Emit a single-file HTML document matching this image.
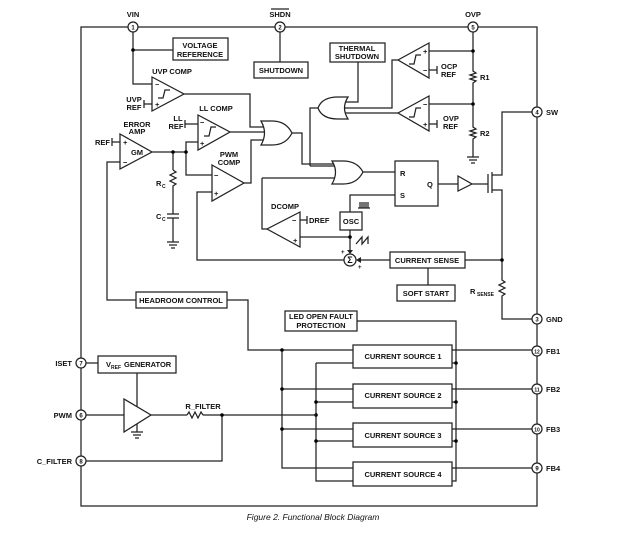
<!DOCTYPE html>
<html><head><meta charset="utf-8"><style>
html,body{margin:0;padding:0;background:#fff}
svg{display:block}
text{font-family:"Liberation Sans",sans-serif;font-weight:bold;font-size:7.5px;fill:#111}
.l{stroke:#222;stroke-width:1.25;fill:none}
.b{stroke:#222;stroke-width:1.25;fill:#fff}
</style></head><body>
<svg width="626" height="533" viewBox="0 0 626 533">
<rect x="81" y="27" width="456" height="479" class="l" stroke-width="1.5"/>
<g class="b">
<circle cx="133" cy="27" r="5"/><circle cx="280" cy="27" r="5"/><circle cx="473" cy="27" r="5"/>
<circle cx="537" cy="112" r="5"/><circle cx="537" cy="319" r="5"/><circle cx="537" cy="351" r="5"/>
<circle cx="537" cy="389" r="5"/><circle cx="537" cy="429" r="5"/><circle cx="537" cy="468" r="5"/>
<circle cx="81" cy="363" r="5"/><circle cx="81" cy="415" r="5"/><circle cx="81" cy="461" r="5"/>
</g>
<g text-anchor="middle">
<text x="133" y="29.5" style="font-size:6px">1</text><text x="280" y="29.5" style="font-size:6px">2</text><text x="473" y="29.5" style="font-size:6px">5</text>
<text x="537" y="114.5" style="font-size:6px">4</text><text x="537" y="321.5" style="font-size:6px">3</text><text x="537" y="353.5" style="font-size:5px">12</text>
<text x="537" y="391.5" style="font-size:5px">11</text><text x="537" y="431.5" style="font-size:5px">10</text><text x="537" y="470.5" style="font-size:6px">9</text>
<text x="81" y="365.5" style="font-size:6px">7</text><text x="81" y="417.5" style="font-size:6px">6</text><text x="81" y="463.5" style="font-size:6px">8</text>
</g>
<text x="133" y="17" text-anchor="middle">VIN</text>
<text x="280" y="17" text-anchor="middle">SHDN</text><line x1="271" y1="9" x2="289" y2="9" class="l" stroke-width="0.8"/>
<text x="473" y="17" text-anchor="middle">OVP</text>
<text x="546" y="115">SW</text><text x="546" y="322">GND</text><text x="546" y="354">FB1</text>
<text x="546" y="392">FB2</text><text x="546" y="432">FB3</text><text x="546" y="471">FB4</text>
<text x="72" y="366" text-anchor="end">ISET</text><text x="72" y="418" text-anchor="end">PWM</text><text x="72" y="464" text-anchor="end">C_FILTER</text>

<path class="l" d="M133 32V84H152M133 50H173M280 32V62"/>
<circle cx="133" cy="50" r="1.8"/>
<rect x="173" y="38" width="55" height="22" class="l"/>
<text x="200" y="48" text-anchor="middle">VOLTAGE</text><text x="200" y="57" text-anchor="middle">REFERENCE</text>
<rect x="254" y="62" width="54" height="16" class="l"/><text x="281" y="73" text-anchor="middle">SHUTDOWN</text>

<path class="b" d="M152 77L184 94L152 111Z"/>
<text x="172" y="74" text-anchor="middle">UVP COMP</text>
<text x="155" y="87" style="font-size:7px">−</text><text x="155" y="107">+</text>
<path class="l" d="M158 98H163L165 90H170M144 100V108M144 104H152" stroke-width="0.9"/>
<text x="134" y="102" text-anchor="middle">UVP</text><text x="134" y="110" text-anchor="middle">REF</text>
<path class="l" d="M184 94H250V127H266"/>

<path class="b" d="M198 115L230 132L198 150Z"/>
<text x="216" y="111" text-anchor="middle">LL COMP</text>
<text x="200" y="125">−</text><text x="200" y="146">+</text>
<path class="l" d="M204 136H209L211 127H216M185 120V128M185 124H198" stroke-width="0.9"/>
<text x="178" y="121" text-anchor="middle">LL</text><text x="176" y="129" text-anchor="middle">REF</text>
<path class="l" d="M230 132H266"/>

<path class="b" d="M120 134L152 152L120 169Z"/>
<text x="137" y="127" text-anchor="middle">ERROR</text><text x="137" y="134" text-anchor="middle">AMP</text>
<text x="137" y="155" text-anchor="middle">GM</text>
<text x="123" y="145">+</text><text x="123" y="165">−</text>
<path class="l" d="M112 138V146M112 142H120"/>
<text x="95" y="145">REF</text>
<path class="l" d="M152 152H186V142H198M186 152V175H212M173 152V170M120 162H107V300H136"/>
<circle cx="173" cy="152" r="1.8"/><circle cx="186" cy="152" r="1.8"/>
<path class="l" d="M173 170L176 172L170 175L176 178L170 181L176 184L173 186V214M167 214H179M167 218H179M173 218V242M167 242H179M169 245H177M171 248H175" stroke-width="0.9"/>
<text x="156" y="186">R</text><text x="162" y="188" style="font-size:5px">C</text>
<text x="156" y="219">C</text><text x="162" y="221" style="font-size:5px">C</text>

<path class="b" d="M212 165L244 183L212 201Z"/>
<text x="229" y="157" text-anchor="middle">PWM</text><text x="229" y="165" text-anchor="middle">COMP</text>
<text x="214" y="178">−</text><text x="214" y="196">+</text>
<path class="l" d="M212 192H197V260H344M244 183H251V140H266"/>

<path class="b" d="M261 121Q268 133 261 145H272Q286 145 292 133Q286 121 272 121Z"/>
<path class="l" d="M292 133H302V164H334M310 166H334"/>
<path class="b" d="M348 97Q341 108 348 119H338Q322 119 318 108Q322 97 338 97Z"/>
<path class="l" d="M318 108H310V166M358 62V102H345M398 60H392V108H345M398 113H345"/>
<rect x="330" y="43" width="55" height="19" class="l"/>
<text x="357" y="51" text-anchor="middle">THERMAL</text><text x="357" y="59" text-anchor="middle">SHUTDOWN</text>
<path class="b" d="M429 43L398 60L429 78Z"/>
<text x="423" y="54">+</text><text x="423" y="73">−</text>
<path class="l" d="M409 64H414L416 55H421M429 70H437M437 66V74M429 51H473" stroke-width="0.9"/>
<text x="441" y="69">OCP</text><text x="441" y="77">REF</text>
<path class="b" d="M429 96L398 113L429 131Z"/>
<text x="423" y="107">−</text><text x="423" y="127">+</text>
<path class="l" d="M409 117H414L416 108H421M429 124H437M437 120V128M429 104H473" stroke-width="0.9"/>
<text x="443" y="121">OVP</text><text x="443" y="129">REF</text>
<path class="l" d="M473 32V71L476 73L470 75L476 77L470 79L476 81L473 83V127L476 129L470 131L476 133L470 135L476 137L473 139V157M467 157H479M469 160H477M471 163H475" stroke-width="1"/>
<circle cx="473" cy="51" r="1.8"/><circle cx="473" cy="104" r="1.8"/>
<text x="480" y="80">R1</text><text x="480" y="136">R2</text>

<path class="b" d="M332 161Q339 172 332 184H343Q357 184 363 172Q357 161 343 161Z"/>
<path class="l" d="M363 172H395M262 178H334M262 178V229H267"/>
<rect x="395" y="161" width="43" height="45" class="l"/>
<text x="400" y="176">R</text><text x="400" y="198">S</text><text x="427" y="187">Q</text>
<path class="l" d="M395 195H350V212M438 184H458"/>
<path class="l" d="M360 208V202M362 208V202M364 208V202M366 208V202M368 208V202M358 208H370" stroke-width="0.7"/>
<rect x="340" y="212" width="22" height="18" class="l"/><text x="351" y="224" text-anchor="middle">OSC</text>
<path class="l" d="M350 230V252M350 237H300M356 244L362 237V244L368 237V244" stroke-width="1"/>
<circle cx="350" cy="237" r="1.8"/>
<path d="M347 250L353 250L350 254Z" fill="#222"/>
<path class="b" d="M300 212L267 229L300 247Z"/>
<text x="285" y="209" text-anchor="middle">DCOMP</text>
<text x="292" y="223">−</text><text x="293" y="243">+</text>
<path class="l" d="M300 220H307M307 216V224"/><text x="309" y="223">DREF</text>
<circle cx="350" cy="260" r="6" class="b"/><text x="350" y="263" text-anchor="middle" style="font-size:9px">Σ</text>
<text x="341" y="254" style="font-size:6px">+</text><text x="358" y="269" style="font-size:6px">+</text>
<path class="l" d="M390 260H359"/><path d="M356 260L361 257V263Z" fill="#222"/>
<rect x="390" y="252" width="75" height="16" class="l"/><text x="427" y="263" text-anchor="middle">CURRENT SENSE</text>
<path class="l" d="M428 268V285M465 260H502"/>
<rect x="397" y="285" width="58" height="16" class="l"/><text x="426" y="296" text-anchor="middle">SOFT START</text>
<path class="b" d="M458 176L472 184L458 191Z"/>
<path class="l" d="M472 184H488M488 174V193M492 172V193M492 175H502V112H532M492 190H502V280L505 282L499 285L505 288L499 291L505 294L502 296V319H532"/>
<circle cx="502" cy="260" r="1.8"/>
<text x="470" y="294">R</text><text x="477" y="296" style="font-size:5px">SENSE</text>

<rect x="136" y="292" width="91" height="16" class="l"/><text x="181" y="303" text-anchor="middle">HEADROOM CONTROL</text>
<path class="l" d="M227 300H248V350H353"/>
<rect x="285" y="311" width="72" height="20" class="l"/>
<text x="321" y="319" text-anchor="middle">LED OPEN FAULT</text><text x="321" y="328" text-anchor="middle">PROTECTION</text>
<path class="l" d="M357 321H456V481H452"/>
<g class="l">
<rect x="353" y="345" width="99" height="23"/><rect x="353" y="384" width="99" height="24"/>
<rect x="353" y="423" width="99" height="24"/><rect x="353" y="462" width="99" height="24"/>
<path d="M282 350V468H353M282 389H353M282 429H353M316 363V481H353M316 363H353M316 402H353M316 441H353"/>
<path d="M452 350H532M452 389H532M452 429H532M452 468H532M452 363H456M452 402H456M452 441H456"/>
</g>
<g>
<circle cx="282" cy="350" r="1.8"/><circle cx="282" cy="389" r="1.8"/><circle cx="282" cy="429" r="1.8"/>
<circle cx="316" cy="402" r="1.8"/><circle cx="316" cy="415" r="1.8"/><circle cx="316" cy="441" r="1.8"/>
<circle cx="456" cy="363" r="1.8"/><circle cx="456" cy="402" r="1.8"/><circle cx="456" cy="441" r="1.8"/>
</g>
<g text-anchor="middle">
<text x="403" y="359">CURRENT SOURCE 1</text><text x="403" y="398">CURRENT SOURCE 2</text>
<text x="403" y="438">CURRENT SOURCE 3</text><text x="403" y="477">CURRENT SOURCE 4</text>
</g>
<path class="l" d="M86 363H98M137 373V408M86 415H128M151 415H187M203 415H316M222 415V461H86"/>
<rect x="98" y="356" width="78" height="17" class="l"/>
<text x="106" y="367">V</text><text x="111" y="369" style="font-size:5px">REF</text><text x="124" y="367">GENERATOR</text>
<path class="b" d="M124 399L151 415L124 432Z"/>
<path class="l" d="M137 424V432M131 432H143M133 435H141M135 438H139" stroke-width="0.9"/>
<path class="l" d="M187 415L189 412L192 418L195 412L198 418L201 412L203 415" stroke-width="0.9"/>
<circle cx="222" cy="415" r="1.8"/>
<text x="203" y="409" text-anchor="middle">R_FILTER</text>
<text x="313" y="520" text-anchor="middle" style="font-weight:normal;font-style:italic;font-size:8.5px">Figure 2. Functional Block Diagram</text>
</svg>
</body></html>
